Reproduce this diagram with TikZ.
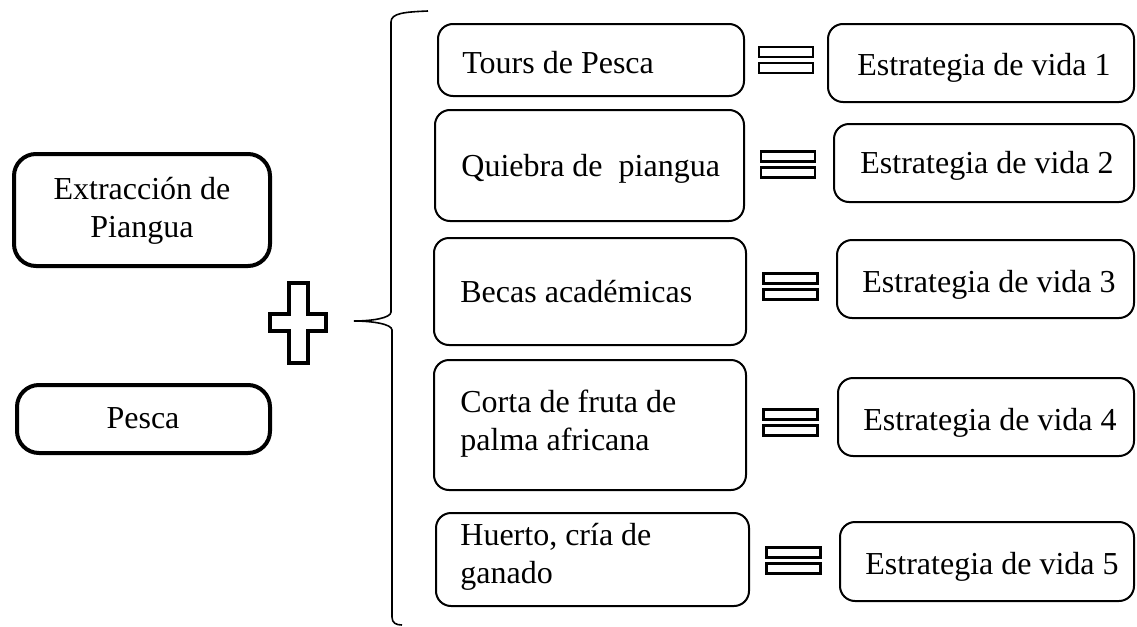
\documentclass[tikz,border=0pt]{standalone}
\usepackage{fontspec}
\setmainfont{Liberation Serif}
\usetikzlibrary{fit}
\begin{document}
\begin{tikzpicture}[x=0.5pt,y=-0.5pt,
  bigbox/.style={draw, line width=2pt, rounded corners=11pt, inner sep=0pt},
  mbox/.style={draw, line width=1pt, rounded corners=7.5pt, inner sep=0pt},
  txt/.style={inner sep=0pt, font=\fontsize{16}{19}\selectfont, align=left},
  eqbar/.style={draw, line width=1.4pt},
  crossline/.style={draw, line width=2.2pt, line join=miter},
  bracestyle/.style={draw, line width=0.8pt}]
\useasboundingbox (0,0) rectangle (1137,627);
% left boxes
\node[bigbox, fit={(14,154)(270,266)}] (ext) {};
\node[txt, anchor=base, align=center] (extt) at (142,237) {Extracción de\\Piangua};
\node[bigbox, fit={(17,385)(270,453)}] (pes) {};
\node[txt, anchor=base] (pest) at (143,428) {Pesca};
% plus sign
\draw[crossline] (289,283) -- (308,283) -- (308,314) -- (326,314) -- (326,331) -- (308,331) -- (308,363) -- (289,363) -- (289,331) -- (270,331) -- (270,314) -- (289,314) -- cycle;
% brace
\coordinate (btop) at (428,11);
\coordinate (btip) at (354,321);
\coordinate (bbot) at (402,625);
\draw[bracestyle] (btop) .. controls (405,12) and (391,13) .. (391,22) -- (391,312)
  .. controls (391,318) and (372,321) .. (btip)
  .. controls (372,321) and (392,324) .. (392,330) -- (392,617)
  .. controls (392,623) and (396,625) .. (bbot);
% middle boxes
\node[mbox, fit={(438,24)(744,96)}] (m1) {};
\node[mbox, fit={(435,110)(744,221)}] (m2) {};
\node[mbox, fit={(434,238)(746,345)}] (m3) {};
\node[mbox, fit={(434,360)(746,490)}] (m4) {};
\node[mbox, fit={(436,513)(749,606)}] (m5) {};
\node[txt, anchor=base west] (m1t) at (462,73) {Tours de Pesca};
\node[txt, anchor=base west] (m2t) at (461,176) {Quiebra de~ piangua};
\node[txt, anchor=base west] (m3t) at (460,302) {Becas académicas};
\node[txt, anchor=base west] (m4t) at (460,450) {Corta de fruta de\\palma africana};
\node[txt, anchor=base west] (m5t) at (460,583) {Huerto, cría de\\ganado};
% right boxes
\node[mbox, fit={(828,24)(1134,102)}] (r1) {};
\node[mbox, fit={(834,124)(1134,202)}] (r2) {};
\node[mbox, fit={(837,240)(1134,318)}] (r3) {};
\node[mbox, fit={(838,378)(1134,456)}] (r4) {};
\node[mbox, fit={(840,522)(1134,601)}] (r5) {};
\node[txt, anchor=base west] (r1t) at (857,75) {Estrategia de vida 1};
\node[txt, anchor=base west] (r2t) at (860,173) {Estrategia de vida 2};
\node[txt, anchor=base west] (r3t) at (862,292) {Estrategia de vida 3};
\node[txt, anchor=base west] (r4t) at (863,430) {Estrategia de vida 4};
\node[txt, anchor=base west] (r5t) at (865,574) {Estrategia de vida 5};
% equals signs
\foreach \cx/\cy in {786/60, 788/164.5, 790.5/286.5, 790.5/422.5, 793.5/560.5}{
  \draw[eqbar] (\cx-27,\cy-13) rectangle (\cx+27,\cy-3);
  \draw[eqbar] (\cx-27,\cy+3) rectangle (\cx+27,\cy+13);
}
\end{tikzpicture}
\end{document}
